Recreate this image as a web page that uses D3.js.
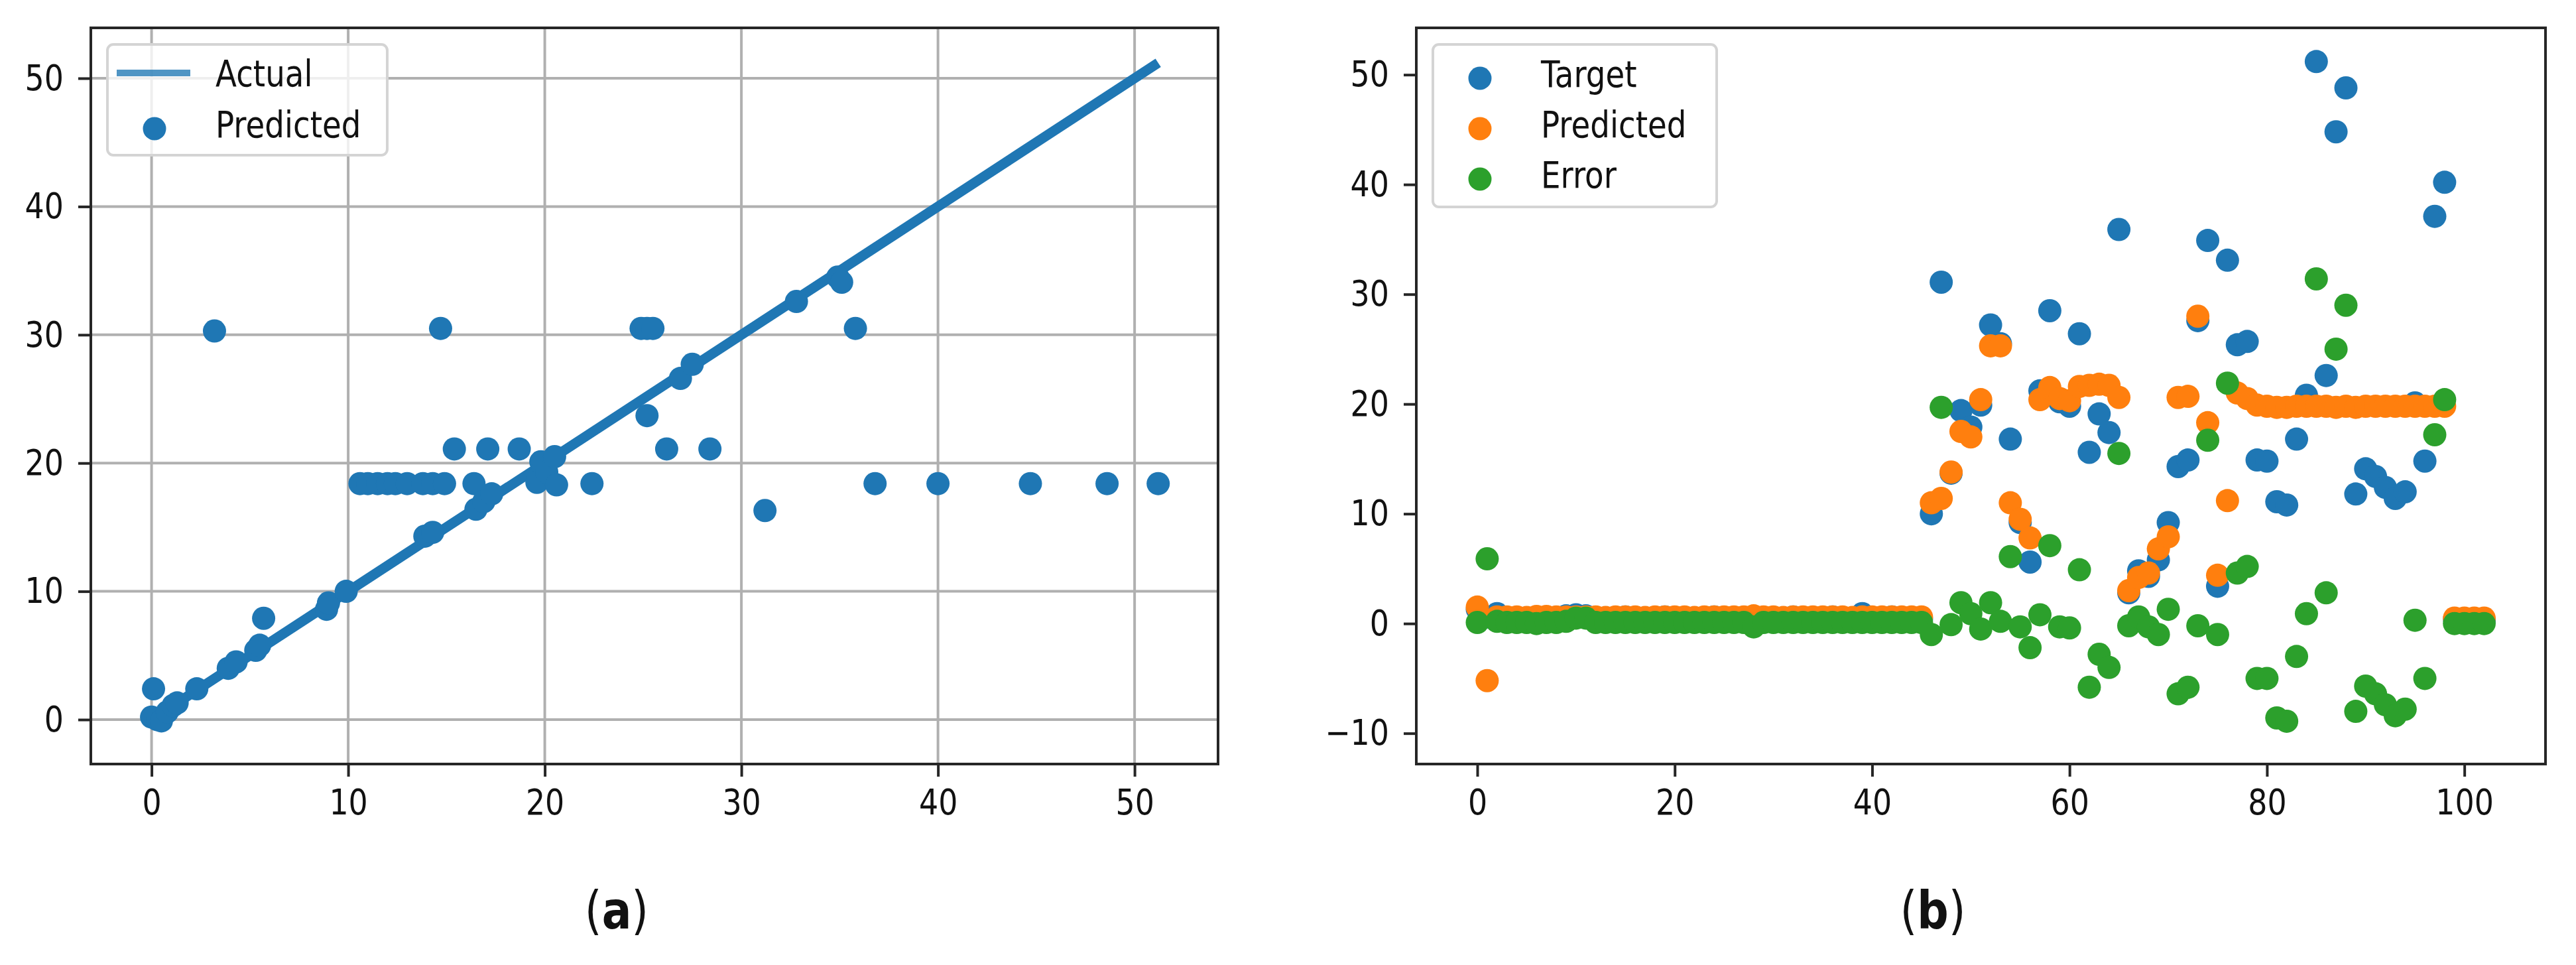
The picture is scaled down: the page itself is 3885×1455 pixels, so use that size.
<!DOCTYPE html>
<meta charset="utf-8">
<style>
body { margin: 0; background: #fff; }
svg text { font-family: "DejaVu Sans", sans-serif; fill: #111; }
</style>
<body>
<svg width="3885" height="1455"></svg>
<script src="https://d3js.org/d3.v7.min.js"></script>
<script>
// ---- panel (a): actual vs predicted ----
var actualA = [0.0, 0.1, 0.3, 0.5, 0.8, 1.1, 1.3, 2.3, 3.2, 3.9, 4.3, 5.3, 5.5, 5.7, 8.9, 9.0, 9.9,
  10.6, 11.0, 11.5, 12.0, 12.4, 13.0, 13.8, 14.3, 14.9, 13.9, 14.3, 14.7, 15.4, 16.4, 16.5, 16.9,
  17.1, 17.3, 18.7, 19.6, 19.8, 20.1, 20.5, 20.6, 22.4, 24.9, 25.2, 25.5, 25.2, 26.2, 26.9, 27.5,
  28.4, 31.2, 32.8, 34.9, 35.1, 35.8, 36.8, 40.0, 44.7, 48.6, 51.2];
var predictedA = [0.2, 2.4, 0.0, -0.1, 0.6, 1.1, 1.3, 2.4, 30.3, 4.0, 4.5, 5.4, 5.8, 7.9, 8.6, 9.1, 10.0,
  18.4, 18.4, 18.4, 18.4, 18.4, 18.4, 18.4, 18.4, 18.4, 14.3, 14.6, 30.5, 21.1, 18.4, 16.4, 17.0,
  21.1, 17.6, 21.1, 18.5, 20.1, 19.3, 20.5, 18.3, 18.4, 30.5, 30.5, 30.5, 23.7, 21.1, 26.6, 27.7,
  21.1, 16.3, 32.6, 34.5, 34.1, 30.5, 18.4, 18.4, 18.4, 18.4, 18.4];
var ticksA = [0, 10, 20, 30, 40, 50];

// ---- panel (b): per sample ----
var target = [1.3, 0.6, 0.9, 0.5, 0.4, 0.5, 0.6, 0.4, 0.5, 0.7,
  0.8, 0.7, 0.5, 0.4, 0.5, 0.6, 0.5, 0.4, 0.5, 0.6,
  0.5, 0.4, 0.5, 0.5, 0.6, 0.5, 0.4, 0.5, 0.2, 0.5,
  0.4, 0.5, 0.6, 0.5, 0.4, 0.5, 0.6, 0.5, 0.5, 0.9,
  0.5, 0.4, 0.6, 0.5, 0.5, 0.4,
  10.0, 31.1, 13.7, 19.4, 17.9, 19.9, 27.2, 25.5, 16.8, 9.2,
  5.6, 21.2, 28.5, 20.2, 19.8, 26.4, 15.6, 19.1, 17.4, 35.9,
  2.8, 4.8, 4.3, 5.8, 9.2, 14.3, 14.9, 27.6, 34.9, 3.4,
  33.1, 25.4, 25.7, 14.9, 14.8, 11.1, 10.8, 16.8, 20.8, 51.2,
  22.6, 44.8, 48.8, 11.8, 14.1, 13.4, 12.4, 11.4, 12.0, 20.1,
  14.8, 37.1, 40.2, 0.4, 0.3, 0.4, 0.3];
var predicted = [1.5, -5.2, 0.6, 0.6, 0.6, 0.55, 0.65, 0.65, 0.6, 0.6,
  0.6, 0.6, 0.6, 0.55, 0.6, 0.6, 0.6, 0.55, 0.6, 0.6,
  0.6, 0.6, 0.55, 0.6, 0.6, 0.6, 0.6, 0.6, 0.7, 0.6,
  0.6, 0.55, 0.6, 0.6, 0.6, 0.6, 0.6, 0.6, 0.55, 0.6,
  0.6, 0.6, 0.6, 0.6, 0.6, 0.6,
  11.0, 11.4, 13.8, 17.5, 17.0, 20.4, 25.3, 25.3, 11.0, 9.5,
  7.8, 20.4, 21.5, 20.5, 20.3, 21.6, 21.7, 21.8, 21.7, 20.6,
  3.0, 4.2, 4.6, 6.8, 7.9, 20.6, 20.7, 28.0, 18.3, 4.4,
  11.2, 21.0, 20.5, 19.9, 19.8, 19.7, 19.7, 19.8, 19.8, 19.8,
  19.8, 19.7, 19.8, 19.7, 19.8, 19.8, 19.8, 19.8, 19.8, 19.8,
  19.8, 19.8, 19.8, 0.5, 0.5, 0.5, 0.5];
var error = [0.1, 5.9, 0.2, 0.1, 0.1, 0.1, 0.0, 0.1, 0.1, 0.2,
  0.5, 0.5, 0.1, 0.1, 0.1, 0.1, 0.1, 0.1, 0.1, 0.1,
  0.1, 0.1, 0.1, 0.1, 0.1, 0.1, 0.1, 0.1, -0.3, 0.1,
  0.1, 0.1, 0.1, 0.1, 0.1, 0.1, 0.1, 0.1, 0.1, 0.1,
  0.1, 0.1, 0.1, 0.1, 0.1, 0.1,
  -1.0, 19.7, -0.1, 1.9, 0.9, -0.5, 1.9, 0.2, 6.1, -0.3,
  -2.2, 0.8, 7.1, -0.3, -0.4, 4.9, -5.8, -2.8, -4.0, 15.5,
  -0.2, 0.6, -0.3, -1.0, 1.3, -6.4, -5.8, -0.2, 16.7, -1.0,
  21.9, 4.6, 5.2, -5.0, -5.0, -8.6, -8.9, -3.0, 0.9, 31.4,
  2.8, 25.0, 29.0, -8.0, -5.7, -6.4, -7.4, -8.4, -7.8, 0.3,
  -5.0, 17.2, 20.4, 0.0, 0.0, 0.0, 0.0];
var ticksBx = [0, 20, 40, 60, 80, 100];
var ticksBy = [-10, 0, 10, 20, 30, 40, 50];

var blue = "#1f77b4", orange = "#ff7f0e", green = "#2ca02c";
var ink = "#262626", R = 17.5, SX = 0.85, FS = 54;

var svg = d3.select("svg");
svg.append("rect").attr("width", 3885).attr("height", 1455).attr("fill", "#fff");

var plotTop = 42, plotBottom = 1152;

var xA = d3.scaleLinear().domain([-3.089, 54.245]).range([137, 1837]),
    yA = d3.scaleLinear().domain([-3.464, 53.93]).range([plotBottom, plotTop]);
var xB = d3.scaleLinear().domain([-6.18, 108.22]).range([2136, 3839]),
    yB = d3.scaleLinear().domain([-12.80, 54.27]).range([plotBottom, plotTop]);

function axes(x, y, xt, yt) {
  var gx = svg.append("g").attr("transform", "translate(0," + plotBottom + ")")
      .call(d3.axisBottom(x).tickValues(xt).tickSize(19).tickPadding(19));
  var gy = svg.append("g").attr("transform", "translate(" + x.range()[0] + ",0)")
      .call(d3.axisLeft(y).tickValues(yt).tickSize(19).tickPadding(22));
  [gx, gy].forEach(function(g) {
    g.select(".domain").remove();
    g.selectAll("line").attr("stroke", ink).attr("stroke-width", 4);
    g.selectAll("text").attr("font-size", FS).attr("font-family", "DejaVu Sans")
      .attr("fill", "#111").attr("transform", "scale(" + SX + ",1)");
  });
  gy.selectAll("text").attr("x", -41 / SX);
  svg.append("rect")
    .attr("x", x.range()[0]).attr("y", plotTop)
    .attr("width", x.range()[1] - x.range()[0]).attr("height", plotBottom - plotTop)
    .attr("fill", "none").attr("stroke", ink).attr("stroke-width", 4);
}

function legend(x0, y0, x1, y1, items) {
  svg.append("rect").attr("x", x0).attr("y", y0).attr("width", x1 - x0).attr("height", y1 - y0)
    .attr("rx", 9).attr("fill", "#fff").attr("fill-opacity", 0.8)
    .attr("stroke", "#d4d4d4").attr("stroke-width", 4);
  items.forEach(function(it) {
    if (it.kind === "line") {
      svg.append("line").attr("x1", x0 + 14).attr("x2", x0 + 125)
        .attr("y1", it.y - 20).attr("y2", it.y - 20)
        .attr("stroke", it.color).attr("stroke-opacity", 0.78).attr("stroke-width", 10);
    } else {
      svg.append("circle").attr("cx", x0 + 71).attr("cy", it.y - 13).attr("r", R).attr("fill", it.color);
    }
    svg.append("g").attr("transform", "translate(" + (x0 + 163) + "," + it.y + ") scale(" + SX + ",1)")
      .append("text").attr("font-size", FS + 1).text(it.label);
  });
}

// ---------- (a) ----------
var gridA = svg.append("g");
ticksA.forEach(function(t) {
  gridA.append("line").attr("x1", xA(t)).attr("x2", xA(t)).attr("y1", plotTop).attr("y2", plotBottom)
    .attr("stroke", "#b0b0b0").attr("stroke-width", 4);
  gridA.append("line").attr("y1", yA(t)).attr("y2", yA(t)).attr("x1", xA.range()[0]).attr("x2", xA.range()[1])
    .attr("stroke", "#b0b0b0").attr("stroke-width", 4);
});

var ext = d3.extent(actualA);
svg.append("path")
  .attr("d", d3.line().x(function(d) { return xA(d); }).y(function(d) { return yA(d); })(ext))
  .attr("fill", "none").attr("stroke", blue).attr("stroke-width", 15);

svg.append("g").selectAll("circle").data(actualA).join("circle")
  .attr("cx", function(d) { return xA(d); })
  .attr("cy", function(d, i) { return yA(predictedA[i]); })
  .attr("r", R).attr("fill", blue);

axes(xA, yA, ticksA, ticksA);
legend(162, 67, 584, 234, [
  {kind: "line", color: blue, label: "Actual", y: 130},
  {kind: "dot", color: blue, label: "Predicted", y: 207}
]);

// ---------- (b) ----------
[[target, blue], [predicted, orange], [error, green]].forEach(function(s) {
  svg.append("g").selectAll("circle").data(s[0]).join("circle")
    .attr("cx", function(d, i) { return xB(i); })
    .attr("cy", function(d) { return yB(d); })
    .attr("r", R).attr("fill", s[1]);
});

axes(xB, yB, ticksBx, ticksBy);
legend(2161, 67, 2589, 312, [
  {kind: "dot", color: blue, label: "Target", y: 131},
  {kind: "dot", color: orange, label: "Predicted", y: 207},
  {kind: "dot", color: green, label: "Error", y: 283}
]);

// sub-figure labels
[["a", 930], ["b", 2915]].forEach(function(l) {
  var t = svg.append("g").attr("transform", "translate(" + l[1] + ",1400) scale(" + SX + ",1)")
    .append("text").attr("text-anchor", "middle").attr("font-size", 78)
    .attr("font-family", "Liberation Serif, serif").attr("fill", "#000");
  t.append("tspan").text("(");
  t.append("tspan").attr("font-weight", "bold").text(l[0]);
  t.append("tspan").text(")");
});
</script>
</body>
